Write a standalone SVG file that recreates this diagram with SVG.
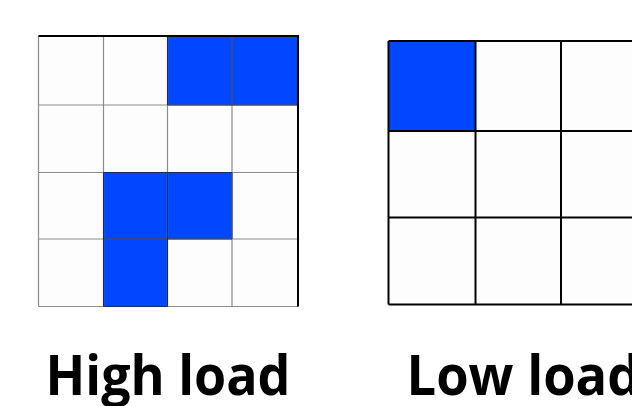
<svg xmlns="http://www.w3.org/2000/svg" width="632" height="406" viewBox="0 0 632 406">
  <style>
    .cell { fill: #fdfdfd; }
    .hot { fill: #0047ff; }
    .thin { stroke: #8c8c8c; stroke-width: 1.2; fill: none; }
    .hotedge { stroke: #1a2a66; stroke-width: 1; fill: none; }
    .thick { stroke: #000; stroke-width: 2; fill: none; }
    .label { font-family: "Open Sans", "Liberation Sans", sans-serif; font-weight: 700; font-size: 55px; fill: #000; }
  </style>
  <rect width="632" height="406" fill="#ffffff"/>

  <!-- 4x4 grid, five busy cells -->
  <g id="high-load-grid">
    <rect class="cell" x="38.5" y="36" width="259.5" height="270.5"/>
    <rect class="hot" x="167.5" y="36" width="64.5" height="69"/>
    <rect class="hot" x="232" y="36" width="66" height="69"/>
    <rect class="hot" x="103.5" y="172.5" width="64" height="66.5"/>
    <rect class="hot" x="167.5" y="172.5" width="64.5" height="66.5"/>
    <rect class="hot" x="103.5" y="239" width="64" height="67.5"/>
    <path class="thin" d="M38.5 36V306.5M103.5 36V306.5M167.5 36V306.5M232 36V306.5M298 36V306.5M38.5 36H298M38.5 105H298M38.5 172.5H298M38.5 239H298M38.5 306.5H298"/>
    <path class="hotedge" d="M167.5 36V105H298M232 36V105M103.5 172.5H232V239H167.5V306.5H103.5V172.5M167.5 172.5V239H103.5"/>
    <path class="thick" d="M38.5 36H298V306.5" stroke-width="1.5"/>
  </g>

  <!-- 3x3 grid, one busy cell -->
  <g id="low-load-grid">
    <rect class="cell" x="388.5" y="41" width="260" height="263.5"/>
    <rect class="hot" x="388.5" y="41" width="87" height="90"/>
    <path class="thick" d="M388.5 41V304.5M475.5 41V304.5M561 41V304.5M388.5 41H640M388.5 131H640M388.5 217.5H640M388.5 304.5H640"/>
  </g>

  <g id="high-load-label">
    <text class="label" x="45.5" y="395" textLength="245" lengthAdjust="spacingAndGlyphs">High load</text>
  </g>
  <g id="low-load-label">
    <text class="label" x="406.5" y="395" textLength="234" lengthAdjust="spacingAndGlyphs">Low load</text>
  </g>
</svg>
